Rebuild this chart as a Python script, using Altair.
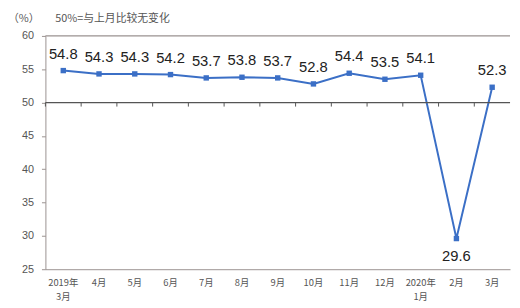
import altair as alt
import pandas as pd

months = ["2019年|3月", "4月", "5月", "6月", "7月", "8月", "9月", "10月", "11月", "12月", "2020年|1月", "2月", "3月"]
values = [54.8, 54.3, 54.3, 54.2, 53.7, 53.8, 53.7, 52.8, 54.4, 53.5, 54.1, 29.6, 52.3]
label_below = [False] * 11 + [True, False]
y_ticks = [25, 30, 35, 40, 45, 50, 55, 60]

df = pd.DataFrame({"month": months, "value": values, "below": label_below})
df["lbl"] = df["value"].map(lambda v: f"{v:.1f}")

FONT = "Liberation Sans, Noto Sans CJK SC"
CJK = "Noto Sans CJK SC"
BLUE = "#3b6fc6"

yscale = alt.Scale(domain=[25, 60], nice=False, zero=False)
yaxis = alt.Axis(title=None, values=y_ticks, grid=False,
                 labelFont=FONT, labelFontSize=11, labelColor="#555", tickSize=4,
                 tickColor="#9a9290", domainColor="#9a9290", labelPadding=8,
                 labelOverlap=False, labelFlush=False)
xscale = alt.Scale(paddingInner=0, paddingOuter=0)
xaxis = alt.Axis(title=None, labelExpr="split(datum.label, '|')", labelAngle=0,
                 labelFont=CJK, labelFontSize=9.5, labelColor="#555", ticks=False,
                 domainColor="#9a9290", labelPadding=9, labelLineHeight=14,
                 labelOverlap=False, labelBaseline="top")

x = alt.X("month:N", sort=months, scale=xscale, axis=xaxis)
y = alt.Y("value:Q", scale=yscale, axis=yaxis)

base = alt.Chart(df)

line = base.mark_line(color=BLUE, strokeWidth=2, point=alt.OverlayMarkDef(color=BLUE, size=30, shape="square")).encode(x=x, y=y)

ref50 = alt.Chart(pd.DataFrame({"value": [50]})).mark_rule(color="#555", strokeWidth=1.2).encode(y=y)
top60 = alt.Chart(pd.DataFrame({"value": [60]})).mark_rule(color="#9a9290", strokeWidth=1.2).encode(y=y)

ticks = base.transform_calculate(t0="50", t1="49.4").mark_rule(color="#555", strokeWidth=1).encode(
    x=alt.X("month:N", sort=months, bandPosition=0, scale=xscale, axis=xaxis),
    y=alt.Y("t0:Q", scale=yscale, axis=yaxis), y2="t1:Q")

lab_above = base.transform_filter("!datum.below").mark_text(
    font=FONT, fontSize=15, color="#222", dy=-17, baseline="middle").encode(x=x, y=y, text="lbl:N")
lab_below = base.transform_filter("datum.below").mark_text(
    font=FONT, fontSize=15, color="#222", dy=18, baseline="middle").encode(x=x, y=y, text="lbl:N")

unit = alt.Chart(pd.DataFrame({"t": ["（%）"]})).mark_text(
    font=CJK, fontSize=11, color="#555", align="left", baseline="middle").encode(
    x=alt.value(-38), y=alt.value(-17), text="t:N")
sub = alt.Chart(pd.DataFrame({"t": ["50%=与上月比较无变化"]})).mark_text(
    font=CJK, fontSize=11, color="#555", align="left", baseline="middle").encode(
    x=alt.value(10), y=alt.value(-17), text="t:N")

chart = alt.layer(line, ref50, top60, ticks, lab_above, lab_below, unit, sub).properties(
    width=472, height=237,
    autosize=alt.AutoSizeParams(type="none"),
    padding={"left": 38, "top": 26, "right": 2, "bottom": 35},
    background="white",
).configure_view(stroke=None).configure_axisY(labelOverlap=False, values=y_ticks)

chart.save("out.html", embed_options={"renderer": "svg", "actions": False})
